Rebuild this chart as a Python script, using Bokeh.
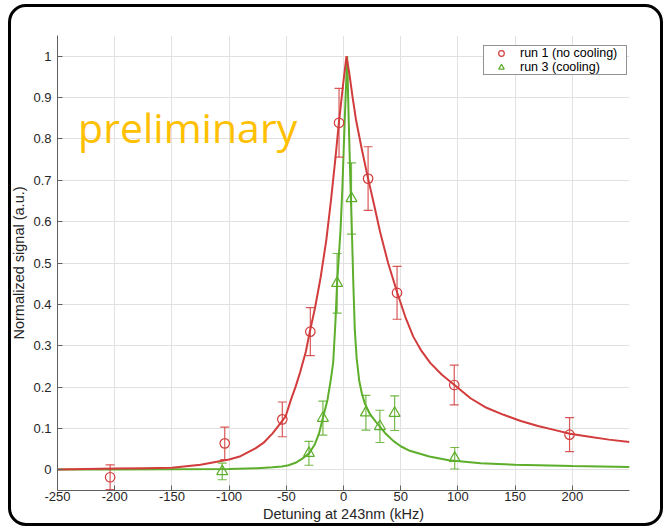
from bokeh.plotting import figure
from bokeh.models import (Range1d, FixedTicker, NumeralTickFormatter, Whisker, TeeHead,
                          ColumnDataSource, Label, Legend, LegendItem, InlineStyleSheet)
from bokeh.embed import file_html
from bokeh.resources import INLINE

# ---------------- data ----------------
x_ticks = [-250, -200, -150, -100, -50, 0, 50, 100, 150, 200]
y_ticks = [0, 0.1, 0.2, 0.3, 0.4, 0.5, 0.6, 0.7, 0.8, 0.9, 1.0]

run1_label = "run 1 (no cooling)"
run1_x = [-204, -103.8, -53.5, -29, -3.9, 21.5, 46.8, 96.8, 197.6]
run1_y = [-0.018, 0.064, 0.122, 0.334, 0.839, 0.704, 0.428, 0.205, 0.085]
run1_err = [0.030, 0.039, 0.042, 0.058, 0.083, 0.077, 0.064, 0.048, 0.041]

run3_label = "run 3 (cooling)"
run3_x = [-106, -30.2, -18, -5.6, 7.0, 19.6, 31.8, 44.7, 97.2]
run3_y = [-0.004, 0.040, 0.125, 0.451, 0.656, 0.138, 0.105, 0.137, 0.028]
run3_err = [0.020, 0.029, 0.041, 0.072, 0.086, 0.042, 0.039, 0.042, 0.026]

# fitted curves
fit1_x = [-250, -225, -200, -175, -150, -125, -100, -90, -77, -70, -62, -55, -50.6, -46,
          -42, -38, -33, -29.5, -25, -20, -15, -11, -7, -4, -2, 0, 2.6,
          5, 8, 11, 16, 21.5, 26, 32, 39, 47, 54, 61, 68, 76, 86, 97, 111, 125,
          140, 155, 170, 185, 198, 215, 232, 250]
fit1_y = [0.001, 0.002, 0.003, 0.004, 0.005, 0.012, 0.025, 0.033, 0.052, 0.065, 0.088, 0.113, 0.129, 0.169,
          0.200, 0.235, 0.285, 0.333, 0.390, 0.465, 0.556, 0.650, 0.755, 0.840, 0.890, 0.940, 1.000,
          0.960, 0.900, 0.845, 0.775, 0.704, 0.650, 0.575, 0.500, 0.428, 0.370, 0.322, 0.288, 0.258, 0.230, 0.205, 0.173, 0.150,
          0.133, 0.118, 0.106, 0.096, 0.087, 0.080, 0.073, 0.067]

fit3_x = [-250, -200, -150, -100, -75, -62, -54, -48, -42, -36, -30, -25, -21.4, -18, -14,
          -11, -9, -7, -5.6, -4, -2.6, -1, 1, 3.2,
          4.6, 6, 7.3, 8.6, 9.9, 11.5, 13.7, 16, 18.7, 23, 28, 32, 37, 43.5, 50, 58, 75, 92,
          120, 150, 200, 250]
fit3_y = [0.0005, 0.0008, 0.0012, 0.002, 0.004, 0.006, 0.008, 0.011, 0.017, 0.027, 0.040, 0.062, 0.088, 0.125, 0.169,
          0.220, 0.260, 0.360, 0.451, 0.520, 0.580, 0.680, 0.840, 1.000,
          0.840, 0.700, 0.580, 0.450, 0.337, 0.270, 0.216, 0.185, 0.160, 0.135, 0.117, 0.104, 0.087, 0.070, 0.057, 0.046, 0.032, 0.023,
          0.016, 0.012, 0.009, 0.007]

RED = "#D23C3C"
GREEN = "#5DAE2B"
FONT = "Liberation Sans"

# ---------------- figure ----------------
p = figure(width=666, height=527,
           x_range=Range1d(-250, 250), y_range=Range1d(-0.05, 1.05),
           output_backend="svg", toolbar_location=None,
           min_border_left=57, min_border_right=37, min_border_top=35, min_border_bottom=37)
p.outline_line_color = None
p.background_fill_color = "white"
p.border_fill_color = "white"

# rounded black frame around the whole figure (pure CSS decoration)
p.stylesheets = [InlineStyleSheet(css="""
:host { position: relative; }
:host::after {
  content: "";
  position: absolute;
  left: 7.5px; top: 4.2px;
  width: 655px; height: 522px;
  box-sizing: border-box;
  border: 3px solid #000000;
  border-radius: 18px;
  pointer-events: none;
  z-index: 100;
}
""")]

p.xaxis.ticker = FixedTicker(ticks=x_ticks)
p.yaxis.ticker = FixedTicker(ticks=y_ticks)
p.xaxis.formatter = NumeralTickFormatter(format="0")
p.yaxis.formatter = NumeralTickFormatter(format="0.[0]")
p.xaxis.axis_label = "Detuning at 243nm (kHz)"
p.yaxis.axis_label = "Normalized signal (a.u.)"
for ax in (p.xaxis, p.yaxis):
    ax.axis_line_color = "#5f5f5f"
    ax.major_tick_line_color = "#5f5f5f"
    ax.major_tick_in = 5
    ax.major_tick_out = 0
    ax.minor_tick_line_color = None
    ax.major_label_text_font = FONT
    ax.major_label_text_font_size = "13px"
    ax.major_label_text_color = "#262626"
    ax.axis_label_text_font = FONT
    ax.axis_label_text_font_size = "14.5px"
    ax.axis_label_text_font_style = "normal"
    ax.axis_label_text_color = "#262626"
p.xaxis.major_label_standoff = 1
p.xaxis.axis_label_standoff = 2
p.yaxis.major_label_standoff = 6
p.yaxis.axis_label_standoff = 3

p.grid.grid_line_color = "#e1e1e1"
p.grid.grid_line_width = 1

# fitted curves
p.line(fit3_x, fit3_y, line_color=GREEN, line_width=2)
p.line(fit1_x, fit1_y, line_color=RED, line_width=2)

# error bars
src1 = ColumnDataSource(dict(x=run1_x, y=run1_y,
                             upper=[a + b for a, b in zip(run1_y, run1_err)],
                             lower=[a - b for a, b in zip(run1_y, run1_err)]))
src3 = ColumnDataSource(dict(x=run3_x, y=run3_y,
                             upper=[a + b for a, b in zip(run3_y, run3_err)],
                             lower=[a - b for a, b in zip(run3_y, run3_err)]))
for src, col in ((src1, RED), (src3, GREEN)):
    w = Whisker(source=src, base="x", upper="upper", lower="lower", dimension="height",
                line_color=col, line_width=1.2, line_alpha=0.85, level="glyph",
                upper_head=TeeHead(size=9, line_color=col, line_width=1.2, line_alpha=0.85),
                lower_head=TeeHead(size=9, line_color=col, line_width=1.2, line_alpha=0.85))
    p.add_layout(w)

r1 = p.scatter("x", "y", source=src1, marker="circle", size=9.5, fill_color=None,
               line_color=RED, line_width=1.2)
r3 = p.scatter("x", "y", source=src3, marker="triangle", size=11, fill_color=None,
               line_color=GREEN, line_width=1.2)

# watermark text
p.add_layout(Label(x=-232, y=0.828, text="preliminary", text_font="Open Sans",
                   text_font_size="41px", text_color="#FFC000", text_baseline="alphabetic"))

legend = Legend(items=[LegendItem(label=run1_label, renderers=[r1]),
                       LegendItem(label=run3_label, renderers=[r3])],
                location=(426, 415))
legend.label_text_font = FONT
legend.label_text_font_size = "12.5px"
legend.label_text_color = "#000000"
legend.border_line_color = "#262626"
legend.border_line_width = 1
legend.background_fill_color = "white"
legend.background_fill_alpha = 1
legend.padding = 0
legend.spacing = 0
legend.margin = 0
legend.glyph_width = 34
legend.glyph_height = 14
legend.label_height = 14
legend.label_standoff = 2
legend.label_width = 106
p.add_layout(legend)

open("out.html", "w").write(file_html(p, INLINE))
